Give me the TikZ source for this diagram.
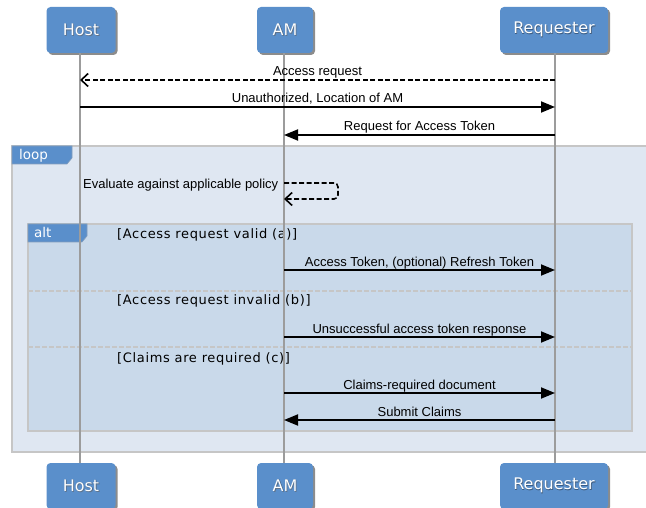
\documentclass[tikz,border=0pt]{standalone}
\usepackage{fontspec}
\setmainfont{Liberation Sans}
\newfontfamily\partfont{DejaVu Sans}
\newfontfamily\guardfont[LetterSpace=5]{DejaVu Sans}
\usetikzlibrary{arrows.meta,shadows}

\definecolor{partblue}{HTML}{5A8FCB}
\definecolor{partdark}{HTML}{2F5C8F}
\definecolor{glowdark}{HTML}{1E3A5C}
\definecolor{loopfill}{HTML}{DFE7F2}
\definecolor{altfill}{HTML}{C9D9EA}
\definecolor{framegray}{HTML}{C6C6C6}
\definecolor{lifegray}{HTML}{9C9C9C}

% white caption with a soft dark halo
\newcommand\haloed[1]{\leavevmode
  \rlap{\kern0.9pt\raisebox{-0.9pt}{\textcolor{glowdark!70}{#1}}}%
  \rlap{\kern0.4pt\raisebox{-0.4pt}{\textcolor{glowdark!60!partblue}{#1}}}%
  #1}

\begin{document}
\begin{tikzpicture}[x=1pt,y=-1pt,
  participant/.style={fill=partblue, rounded corners=4pt, minimum height=46pt,
    inner sep=0pt, text=white, font=\partfont\fontsize{16}{18}\selectfont,
    drop shadow={shadow xshift=2pt, shadow yshift=-2pt, fill=black, opacity=.45}},
  lifeline/.style={draw=lifegray, line width=1.5pt},
  msg/.style={line width=1.8pt, -{Triangle[length=14pt,width=11pt]}},
  reply/.style={line width=1.6pt, dash pattern=on 5pt off 2.5pt,
    -{Straight Barb[length=7pt,width=13pt]}},
  msglabel/.style={font=\fontsize{13}{15}\selectfont, inner sep=0pt, anchor=base, yshift=4pt},
  frame/.style={draw=framegray, line width=1.8pt},
  tabshape/.style={fill=partblue, draw=partdark!60, line width=0.6pt},
  tablabel/.style={text=white, font=\partfont\fontsize{13.5}{15}\selectfont, anchor=base west, inner sep=0pt},
  guard/.style={font=\guardfont\fontsize{13}{15}\selectfont, anchor=base west, inner sep=0pt},
  divider/.style={draw=framegray, line width=1.2pt, dash pattern=on 5pt off 2pt}]

\useasboundingbox (0,0) rectangle (646,508);
\clip (0,0) rectangle (646,508);

% participants, top and bottom
\node[participant, minimum width=69pt]  (hostT) at (81,30)  {\haloed{Host}};
\node[participant, minimum width=56pt]  (amT)   at (285,30) {\haloed{AM}};
\node[participant, minimum width=108pt] (reqT)  at (554,30) {\haloed{Requester}};
\node[participant, minimum width=69pt]  (hostB) at (81,486)  {\haloed{Host}};
\node[participant, minimum width=56pt]  (amB)   at (285,486) {\haloed{AM}};
\node[participant, minimum width=108pt] (reqB)  at (554,486) {\haloed{Requester}};

% loop and alt fragments
\draw[frame, fill=loopfill] (12,146) rectangle (670,452);
\draw[tabshape] (12,146) -- (72,146) -- (72,158) -- (67,164) -- (12,164) -- cycle;
\node[tablabel] (looplbl) at (19,160) {loop};

\draw[frame, fill=altfill] (28,224) rectangle (632,431);
\draw[tabshape] (28,224) -- (87,224) -- (87,236) -- (82,242) -- (28,242) -- cycle;
\node[tablabel] (altlbl) at (34,238) {alt};
\draw[divider] (28,291) -- (632,291);
\draw[divider] (28,347) -- (632,347);

\node[guard] (g1) at (117,239) {[Access request valid (a)]};
\node[guard] (g2) at (117,305) {[Access request invalid (b)]};
\node[guard] (g3) at (117,362) {[Claims are required (c)]};

% lifelines
\draw[lifeline] ([xshift=-1pt]hostT.south) -- ([xshift=-1pt]hostB.north);
\draw[lifeline] ([xshift=-1pt]amT.south) -- ([xshift=-1pt]amB.north);
\draw[lifeline] ([xshift=1pt]reqT.south) -- ([xshift=1pt]reqB.north);

% points on the lifelines where messages start and end
\coordinate (h1) at (80,80);   \coordinate (r1) at (555,80);
\coordinate (h2) at (80,107);  \coordinate (r2) at (555,107);
\coordinate (a3) at (284,135); \coordinate (r3) at (555,135);
\coordinate (s1) at (284,183); \coordinate (s2) at (284,199);
\coordinate (a4) at (284,270); \coordinate (r4) at (555,270);
\coordinate (a5) at (284,337); \coordinate (r5) at (555,337);
\coordinate (a6) at (284,393); \coordinate (r6) at (555,393);
\coordinate (a7) at (284,420); \coordinate (r7) at (555,420);

% messages
\draw[reply] (r1) -- (h1) node[msglabel, midway] {Access request};
\draw[msg] (h2) -- (r2) node[msglabel, midway] {Unauthorized, Location of AM};
\draw[msg] (r3) -- (a3) node[msglabel, midway] {Request for Access Token};
\draw[reply, rounded corners=4pt] (s1) -- ++(54,0) |- (s2);
\node[font=\fontsize{13}{15}\selectfont, inner sep=0pt, anchor=base east] (evl)
  at ([xshift=-5.5pt,yshift=-5.5pt]s1) {Evaluate against applicable policy};
\draw[msg] (a4) -- (r4) node[msglabel, midway] {Access Token, (optional) Refresh Token};
\draw[msg] (a5) -- (r5) node[msglabel, midway] {Unsuccessful access token response};
\draw[msg] (a6) -- (r6) node[msglabel, midway] {Claims-required document};
\draw[msg] (r7) -- (a7) node[msglabel, midway] {Submit Claims};
\end{tikzpicture}
\end{document}
